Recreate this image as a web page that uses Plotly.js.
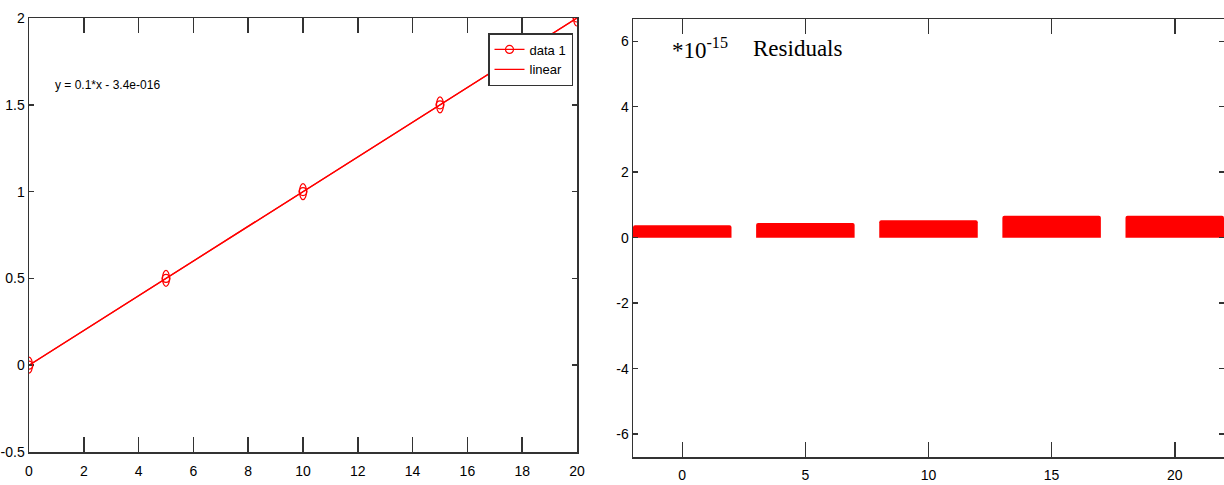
<!DOCTYPE html>
<html>
<head>
<meta charset="utf-8">
<script src="https://cdn.plot.ly/plotly-3.0.1.min.js"></script>
<style>
html,body{margin:0;padding:0;background:#fff;}
#chart{width:1224px;height:485px;}
</style>
</head>
<body>
<div id="chart"></div>
<script>
// ---- data ----
const dataX = [0, 5, 10, 15, 20];
const dataY = [0, 0.5, 1, 1.5, 2];
const fitX = [0, 20];
const fitY = [0, 2];
const residX = [0, 5, 10, 15, 20];
const residY = [0.38, 0.45, 0.53, 0.67, 0.67]; // in units of 1e-15

const leftXTicks = [0, 2, 4, 6, 8, 10, 12, 14, 16, 18, 20];
const leftXLabels = ["0", "2", "4", "6", "8", "10", "12", "14", "16", "18", "20"];
const leftYTicks = [-0.5, 0, 0.5, 1, 1.5, 2];
const leftYLabels = ["-0.5", "0", "0.5", "1", "1.5", "2"];
const rightXTicks = [0, 5, 10, 15, 20];
const rightXLabels = ["0", "5", "10", "15", "20"];
const rightYTicks = [-6, -4, -2, 0, 2, 4, 6];
const rightYLabels = ["-6", "-4", "-2", "0", "2", "4", "6"];

const fitEquation = "y = 0.1*x - 3.4e-016";
const scaleLabel = "*10<sup>-15</sup>";
const residTitle = "Residuals";

// ---- style ----
const W = 1224, H = 485;
const narrow = '"Liberation Sans Narrow", "Liberation Sans", Arial, sans-serif';
const serif = '"Liberation Serif", "Times New Roman", serif';
const axisColor = '#333333';
const red = '#ff0000';

function axisBase(extra) {
  return Object.assign({
    showline: true, mirror: 'ticks', linecolor: axisColor, linewidth: 1.5,
    ticks: 'inside', tickcolor: axisColor, tickwidth: 1.5,
    showgrid: false, zeroline: false, tickmode: 'array',
    tickfont: {family: narrow, size: 14, color: '#000'}
  }, extra);
}

const traces = [
  {x: dataX, y: dataY, type: 'scatter', mode: 'lines+markers', name: 'data 1',
   line: {color: red, width: 1.3},
   marker: {symbol: 'circle-open', size: 8, color: red, line: {color: red, width: 1.2}},
   xaxis: 'x', yaxis: 'y'},
  {x: fitX, y: fitY, type: 'scatter', mode: 'lines', name: 'linear',
   line: {color: red, width: 1.3}, xaxis: 'x', yaxis: 'y'},
  {x: residX, y: residY, type: 'bar', width: 4, showlegend: false,
   marker: {color: red, cornerradius: 2, line: {width: 0}},
   xaxis: 'x2', yaxis: 'y2'}
];

// elliptical (stretched) circle markers as in the reference, anchored to data
const shapes = dataX.map((xv, i) => ({
  type: 'circle', xref: 'x', yref: 'y',
  xsizemode: 'pixel', ysizemode: 'pixel',
  xanchor: xv, yanchor: dataY[i],
  x0: -3.5, x1: 3.5, y0: -8, y1: 8,
  line: {color: red, width: 1.2}, fillcolor: 'rgba(0,0,0,0)'
}));

const layout = {
  width: W, height: H,
  margin: {l: 0, r: 0, t: 0, b: 0},
  paper_bgcolor: '#fff', plot_bgcolor: '#fff',
  showlegend: true,
  xaxis: axisBase({domain: [29 / W, 577 / W], range: [0, 20], anchor: 'y',
    tickvals: leftXTicks, ticktext: leftXLabels, ticklen: 15, ticklabelstandoff: 6}),
  yaxis: axisBase({domain: [1 - 452 / H, 1 - 18 / H], range: [-0.5, 2], anchor: 'x',
    tickvals: leftYTicks, ticktext: leftYLabels, ticklen: 5}),
  xaxis2: axisBase({domain: [633 / W, 1], range: [-2, 22], anchor: 'y2',
    tickvals: rightXTicks, ticktext: rightXLabels, ticklen: 15, ticklabelstandoff: 5}),
  yaxis2: axisBase({domain: [1 - 457 / H, 1 - 19 / H], range: [-6.7, 6.68], anchor: 'x2',
    tickvals: rightYTicks, ticktext: rightYLabels, ticklen: 5, ticklabelstandoff: 0}),
  legend: {x: 573 / W, xanchor: 'right', y: 1 - 33 / H, yanchor: 'top',
    bgcolor: '#fff', bordercolor: axisColor, borderwidth: 1.5,
    font: {family: narrow, size: 13, color: '#000'}, itemwidth: 30},
  shapes: shapes,
  annotations: [
    {xref: 'paper', yref: 'paper', x: 53 / W, y: 1 - 85 / H, xanchor: 'left', yanchor: 'middle',
     text: fitEquation, showarrow: false, font: {family: narrow, size: 12, color: '#000'}},
    {xref: 'paper', yref: 'paper', x: 670 / W, y: 1 - 49 / H, xanchor: 'left', yanchor: 'middle',
     text: scaleLabel, showarrow: false, font: {family: serif, size: 23, color: '#000'}},
    {xref: 'paper', yref: 'paper', x: 751 / W, y: 1 - 49 / H, xanchor: 'left', yanchor: 'middle',
     text: residTitle, showarrow: false, font: {family: serif, size: 23, color: '#000'}}
  ]
};

Plotly.newPlot('chart', traces, layout, {staticPlot: true, displayModeBar: false});
</script>
</body>
</html>
